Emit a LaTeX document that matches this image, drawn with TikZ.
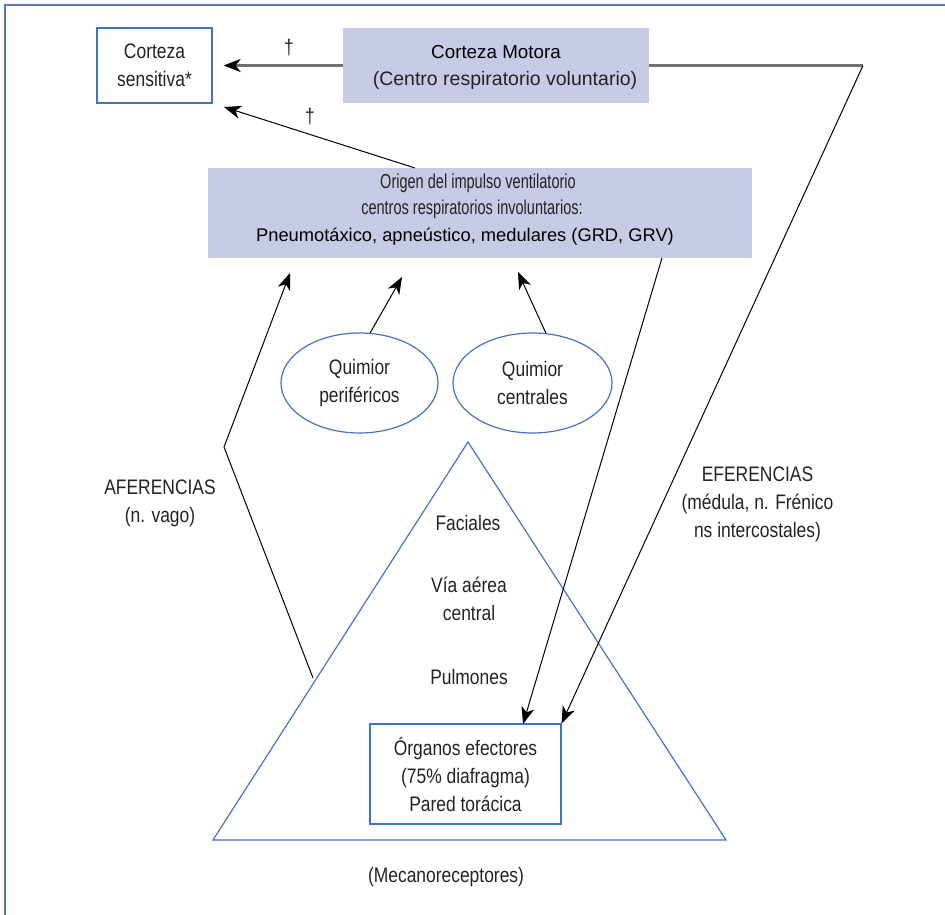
\documentclass[tikz,border=0pt]{standalone}
\usepackage{fontspec}
\setmainfont{Liberation Sans}[FakeStretch=0.83]
\newfontfamily\widefont{Liberation Sans}
\newfontfamily\narrowfont{Liberation Sans}[FakeStretch=0.72]
\usetikzlibrary{arrows.meta,shapes.geometric}
\definecolor{bl}{RGB}{68,114,196}
\definecolor{lav}{RGB}{198,202,228}
\definecolor{framec}{RGB}{90,120,185}
\definecolor{txt}{RGB}{35,35,35}
\definecolor{gl}{RGB}{115,115,115}
\begin{document}
\begin{tikzpicture}[x=1pt,y=-1pt,
  txtstyle/.style={font=\fontsize{21}{28}\selectfont, text=txt, align=center, inner sep=0pt},
  narrowtxt/.style={font=\narrowfont\fontsize{20.2}{28}\selectfont, text=txt, inner sep=0pt},
  widetxt/.style={font=\widefont\fontsize{18.8}{28}\selectfont, text=black, inner sep=0pt},
  bluebox/.style={rectangle, draw=bl, line width=1.2pt, fill=white, inner sep=0pt},
  lavbox/.style={rectangle, fill=lav, inner sep=0pt},
  oval/.style={ellipse, draw=bl, line width=1.2pt, inner sep=0pt},
  arr/.style={draw=black, line width=1pt, -{Stealth[length=17pt,width=13pt,inset=5pt]}},
  gline/.style={draw=gl, line width=2.5pt},
]
\useasboundingbox (0,0) rectangle (945,915);
\draw[draw=framec, line width=1.5pt] (945,5) -- (5,5) -- (5,915);

% boxes
\node[bluebox, minimum width=115pt, minimum height=75pt] (sen) at (154.5,65.5) {};
\node[txtstyle] (sent) at (sen.center) {Corteza\\sensitiva*};

\node[lavbox, minimum width=306pt, minimum height=75pt] (mot) at (496,65.5) {};
\node[widetxt] (mot1) at (496,52) {Corteza Motora};
\node[widetxt, text=txt, font=\widefont\fontsize{19.5}{28}\selectfont] (mot2) at (505,80) {(Centro respiratorio voluntario)};

\node[lavbox, minimum width=544pt, minimum height=90pt] (ori) at (480,213) {};
\node[narrowtxt] (o1) at (478,183) {Origen del impulso ventilatorio};
\node[narrowtxt] (o2) at (472,209) {centros respiratorios involuntarios:};
\node[widetxt, font=\widefont\fontsize{18.3}{28}\selectfont] (o3) at (465,237) {Pneumotáxico, apneústico, medulares (GRD, GRV)};

\node[oval, minimum width=157pt, minimum height=100pt] (q1) at (359.5,383) {};
\node[txtstyle] (q1t) at (q1.center) {Quimior\\periféricos};
\node[oval, minimum width=159pt, minimum height=100pt] (q2) at (532.5,383) {};
\node[txtstyle] (q2t) at (q2.center) {Quimior\\centrales};

% triangle
\coordinate (apex) at (468,442);
\coordinate (tl) at (213,840);
\coordinate (tr) at (726,840);
\draw[draw=bl, line width=1.2pt] (apex) -- (tl) -- (tr) -- cycle;

\node[txtstyle] (fac) at (468,523) {Faciales};
\node[txtstyle] (via) at (469,599) {Vía aérea\\central};
\node[txtstyle] (pul) at (469,677) {Pulmones};

\node[bluebox, minimum width=191pt, minimum height=100pt] (org) at (465.5,774) {};
\node[txtstyle] (orgt) at (org.center) {Órganos efectores\\(75\% diafragma)\\Pared torácica};

\node[txtstyle] (mec) at (446,877) {(Mecanoreceptores)};
\node[txtstyle] (afe) at (160,503.5) {AFERENCIAS\\(n. vago)};
\node[txtstyle] (efe) at (757.5,504) {EFERENCIAS\\(médula, n. Frénico\\ns intercostales)};
\node[txtstyle] (d1) at (289,48) {†};
\node[txtstyle] (d2) at (310,117) {†};

% connectors
\draw[gline, -{Stealth[length=17pt,width=13pt,inset=5pt,color=black]}, shorten >=11pt] (mot.west) -- (sen.east);
\coordinate (os) at (415,168);
\coordinate (st) at (224,107);
\draw[arr] (os) -- (st);

\coordinate (af0) at (313,678);
\coordinate (af1) at (224,447);
\coordinate (at1) at (290,273);
\draw[arr] (af0) -- (af1) -- (at1);

\coordinate (at2) at (402,277);
\draw[arr] (q1.78) -- (at2);
\coordinate (at3) at (518,272);
\draw[arr] (q2.75) -- (at3);

\coordinate (ef0) at (662,258);
\coordinate (et1) at (523,724);
\draw[arr] (ef0) -- (et1);

\coordinate (corner) at (863,65.5);
\draw[gline] (mot.east) -- (corner);
\draw[arr] (corner) -- (org.north east);
\end{tikzpicture}
\end{document}
